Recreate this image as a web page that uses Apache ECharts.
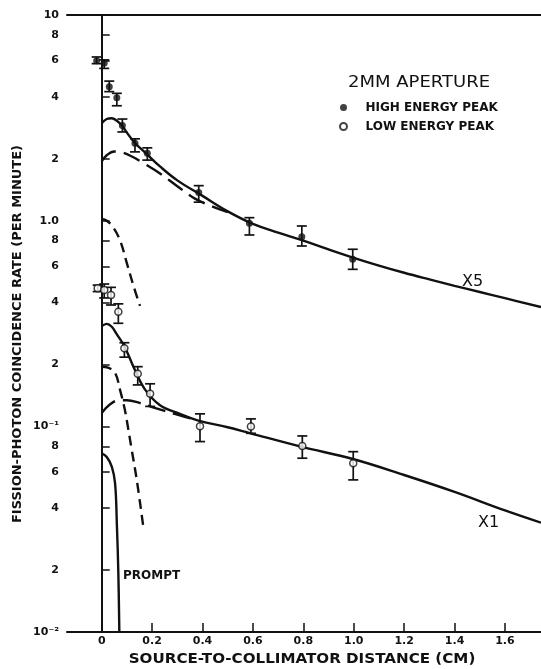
<!DOCTYPE html>
<html>
<head>
<meta charset="utf-8">
<script src="https://cdn.jsdelivr.net/npm/echarts@6/dist/echarts.min.js"></script>
<style>
  html, body { margin: 0; padding: 0; background: #fff; }
  #chart { width: 541px; height: 669px; }
</style>
</head>
<body>
<div id="chart"></div>
<script>
// Axis ticks and their printed labels
const xTickValues = [0.2, 0.4, 0.6, 0.8, 1.0, 1.2, 1.4, 1.6];
const xLabelValues = [0, 0.2, 0.4, 0.6, 0.8, 1.0, 1.2, 1.4, 1.6];
const xLabelTexts = ['0', '0.2', '0.4', '0.6', '0.8', '1.0', '1.2', '1.4', '1.6'];
const yTickValues = [0.01, 0.02, 0.04, 0.06, 0.08, 0.1, 0.2, 0.4, 0.6, 0.8, 1, 2, 4, 6, 8, 10];
const yTickLabels = ['10⁻²', '2', '4', '6', '8', '10⁻¹', '2', '4', '6', '8', '1.0', '2', '4', '6', '8', '10'];

// High energy peak (plotted x5): distance (cm), rate, error-bar low, error-bar high
const highX  = [-0.02, 0.01, 0.03, 0.06, 0.082, 0.132, 0.181, 0.385, 0.586, 0.794, 0.996];
const highY  = [6.0, 5.85, 4.48, 3.96, 2.90, 2.38, 2.13, 1.37, 0.971, 0.836, 0.649];
const highLo = [5.8, 5.5, 4.24, 3.62, 2.70, 2.16, 1.97, 1.23, 0.852, 0.753, 0.580];
const highHi = [6.25, 6.05, 4.77, 4.16, 3.12, 2.50, 2.26, 1.48, 1.034, 0.942, 0.726];

// Low energy peak (plotted x1)
const lowX  = [-0.016, 0.01, 0.037, 0.066, 0.09, 0.143, 0.192, 0.39, 0.592, 0.796, 0.998];
const lowY  = [0.469, 0.460, 0.435, 0.361, 0.240, 0.180, 0.144, 0.100, 0.0997, 0.0803, 0.0662];
const lowLo = [0.452, 0.421, 0.389, 0.317, 0.217, 0.159, 0.125, 0.0843, 0.0925, 0.070, 0.0549];
const lowHi = [0.486, 0.492, 0.474, 0.394, 0.255, 0.195, 0.161, 0.115, 0.1087, 0.0898, 0.0753];

// Fitted curves, x5 set
const x5TotalX = [0, 0.02, 0.04, 0.06, 0.08, 0.10, 0.13, 0.18, 0.23, 0.30, 0.40, 0.50, 0.60, 0.70, 0.80, 0.90, 1.00, 1.10, 1.20, 1.30, 1.40, 1.50, 1.60, 1.743];
const x5TotalY = [2.98, 3.12, 3.15, 3.06, 2.90, 2.68, 2.40, 2.10, 1.84, 1.57, 1.32, 1.11, 0.965, 0.875, 0.80, 0.725, 0.66, 0.605, 0.558, 0.518, 0.482, 0.45, 0.42, 0.38];
const x5LongX = [0, 0.02, 0.05, 0.08, 0.12, 0.17, 0.23, 0.30, 0.37, 0.44, 0.50];
const x5LongY = [1.94, 2.08, 2.17, 2.15, 2.05, 1.89, 1.70, 1.47, 1.28, 1.17, 1.10];
const x5ShortX = [0, 0.02, 0.045, 0.073, 0.10, 0.125, 0.152];
const x5ShortY = [1.02, 1.0, 0.93, 0.80, 0.62, 0.487, 0.385];

// Fitted curves, x1 set
const x1TotalX = [0, 0.02, 0.04, 0.06, 0.09, 0.13, 0.17, 0.23, 0.31, 0.38, 0.50, 0.59, 0.79, 1.00, 1.20, 1.40, 1.60, 1.743];
const x1TotalY = [0.307, 0.315, 0.305, 0.28, 0.245, 0.19, 0.152, 0.127, 0.115, 0.107, 0.099, 0.0925, 0.0797, 0.0692, 0.058, 0.048, 0.039, 0.034];
const x1LongX = [0, 0.03, 0.07, 0.10, 0.15, 0.20, 0.30, 0.38];
const x1LongY = [0.116, 0.127, 0.134, 0.134, 0.130, 0.124, 0.114, 0.107];
const x1ShortX = [0, 0.025, 0.053, 0.073, 0.092, 0.106, 0.119, 0.139, 0.165];
const x1ShortY = [0.195, 0.193, 0.182, 0.150, 0.12, 0.096, 0.077, 0.055, 0.0325];

// Prompt component
const promptX = [0, 0.02, 0.04, 0.053, 0.06, 0.066, 0.07];
const promptY = [0.074, 0.071, 0.0637, 0.0529, 0.0338, 0.0193, 0.01];

const FONT = 'DejaVu Sans';
const INK = '#111';

const zip = (xs, ys) => xs.map((x, i) => [x, ys[i]]);
const bars = (xs, lo, hi) => xs.map((x, i) => [x, lo[i], hi[i]]);

function curve(name, xs, ys, dash) {
  return {
    name: name,
    type: 'line',
    data: zip(xs, ys),
    showSymbol: false,
    symbol: 'none',
    smooth: 0.4,
    silent: true,
    z: 3,
    lineStyle: { color: INK, width: 2.4, type: dash || 'solid', cap: 'butt' }
  };
}

function errorBars(name, data) {
  return {
    name: name,
    type: 'custom',
    data: data,
    encode: { x: 0, y: [1, 2] },
    silent: true,
    z: 4,
    renderItem: function (params, api) {
      const x = api.value(0);
      const pLo = api.coord([x, api.value(1)]);
      const pHi = api.coord([x, api.value(2)]);
      const w = 5;
      const st = { stroke: INK, lineWidth: 1.7 };
      return {
        type: 'group',
        children: [
          { type: 'line', shape: { x1: pLo[0], y1: pLo[1], x2: pHi[0], y2: pHi[1] }, style: st },
          { type: 'line', shape: { x1: pLo[0] - w, y1: pLo[1], x2: pLo[0] + w, y2: pLo[1] }, style: st },
          { type: 'line', shape: { x1: pHi[0] - w, y1: pHi[1], x2: pHi[0] + w, y2: pHi[1] }, style: st }
        ]
      };
    }
  };
}

function labelFor(values, texts) {
  return function (v) {
    for (let i = 0; i < values.length; i++) {
      if (Math.abs(values[i] - v) <= values[i] * 1e-6 + 1e-9) return texts[i];
    }
    return '';
  };
}

const chart = echarts.init(document.getElementById('chart'), null, { renderer: 'canvas' });

chart.setOption({
  animation: false,
  backgroundColor: '#fff',
  grid: { left: 67, right: 0, top: 15, bottom: 37, containLabel: false, outerBoundsMode: 'none' },
  legend: {
    orient: 'vertical',
    left: 334,
    top: 96,
    itemWidth: 34,
    itemHeight: 7,
    itemGap: 6,
    selectedMode: false,
    textStyle: { fontFamily: FONT, fontWeight: 'bold', fontSize: 12, color: INK, lineHeight: 13 },
    data: [
      { name: 'HIGH ENERGY PEAK', icon: 'circle' },
      { name: 'LOW ENERGY PEAK', icon: 'circle' }
    ]
  },
  xAxis: [
    {
      type: 'value',
      min: -0.1377,
      max: 1.743,
      axisLine: { show: true, lineStyle: { color: INK, width: 2 } },
      axisTick: { show: true, inside: true, length: 9, customValues: xTickValues, lineStyle: { color: INK, width: 1.5 } },
      axisLabel: {
        customValues: xLabelValues,
        formatter: labelFor(xLabelValues, xLabelTexts),
        fontFamily: FONT, fontWeight: 'bold', fontSize: 11, color: INK, margin: 4
      },
      splitLine: { show: false }
    },
    {
      type: 'value',
      position: 'top',
      min: -0.1377,
      max: 1.743,
      axisLine: { show: true, lineStyle: { color: INK, width: 2 } },
      axisTick: { show: false },
      axisLabel: { show: false },
      splitLine: { show: false }
    }
  ],
  yAxis: {
    type: 'log',
    logBase: 10,
    min: 0.01,
    max: 10,
    axisLine: { show: true, lineStyle: { color: INK, width: 2 } },
    axisTick: { show: true, inside: true, length: 8, customValues: yTickValues, lineStyle: { color: INK, width: 1.5 } },
    axisLabel: {
      customValues: yTickValues,
      formatter: labelFor(yTickValues, yTickLabels),
      fontFamily: FONT, fontWeight: 'bold', fontSize: 11, color: INK, margin: 8
    },
    splitLine: { show: false },
    minorTick: { show: false }
  },
  series: [
    Object.assign(curve('x5 total', x5TotalX, x5TotalY), {
      markLine: {
        silent: true,
        symbol: 'none',
        label: { show: false },
        lineStyle: { color: INK, width: 2, type: 'solid' },
        data: [{ xAxis: 0 }]
      }
    }),
    curve('x5 delayed', x5LongX, x5LongY, [18, 8]),
    curve('x5 short', x5ShortX, x5ShortY, [10, 6]),
    curve('x1 total', x1TotalX, x1TotalY),
    curve('x1 delayed', x1LongX, x1LongY, [18, 8]),
    curve('x1 short', x1ShortX, x1ShortY, [10, 6]),
    curve('prompt', promptX, promptY),
    errorBars('high energy errors', bars(highX, highLo, highHi)),
    errorBars('low energy errors', bars(lowX, lowLo, lowHi)),
    {
      name: 'HIGH ENERGY PEAK',
      type: 'scatter',
      data: zip(highX, highY),
      symbol: 'circle',
      symbolSize: 7,
      z: 5,
      itemStyle: { color: INK, borderColor: INK, borderWidth: 0 }
    },
    {
      name: 'LOW ENERGY PEAK',
      type: 'scatter',
      data: zip(lowX, lowY),
      symbol: 'circle',
      symbolSize: 7,
      z: 5,
      itemStyle: { color: '#fff', borderColor: INK, borderWidth: 1.5 }
    }
  ],
  graphic: [
    {
      type: 'text', x: 18, y: 334, rotation: Math.PI / 2,
      style: {
        text: 'FISSION-PHOTON COINCIDENCE RATE (PER MINUTE)',
        font: 'bold 13px "DejaVu Sans"', fill: INK, align: 'center', verticalAlign: 'middle'
      }
    },
    {
      type: 'text', x: 302, y: 659, scaleX: 1.08,
      style: {
        text: 'SOURCE-TO-COLLIMATOR DISTANCE (CM)',
        font: 'bold 14px "DejaVu Sans"', fill: INK, align: 'center', verticalAlign: 'middle'
      }
    },
    {
      type: 'text', x: 419, y: 83, scaleX: 1.2,
      style: { text: '2MM APERTURE', font: 'normal 15px "DejaVu Sans"', fill: INK, align: 'center', verticalAlign: 'middle' }
    },
    {
      type: 'text', x: 462, y: 282,
      style: { text: 'X5', font: 'normal 16px "DejaVu Sans"', fill: INK, align: 'left', verticalAlign: 'middle' }
    },
    {
      type: 'text', x: 478, y: 523,
      style: { text: 'X1', font: 'normal 16px "DejaVu Sans"', fill: INK, align: 'left', verticalAlign: 'middle' }
    },
    {
      type: 'text', x: 123, y: 576,
      style: { text: 'PROMPT', font: 'bold 12px "DejaVu Sans"', fill: INK, align: 'left', verticalAlign: 'middle' }
    }
  ]
});
</script>
</body>
</html>
